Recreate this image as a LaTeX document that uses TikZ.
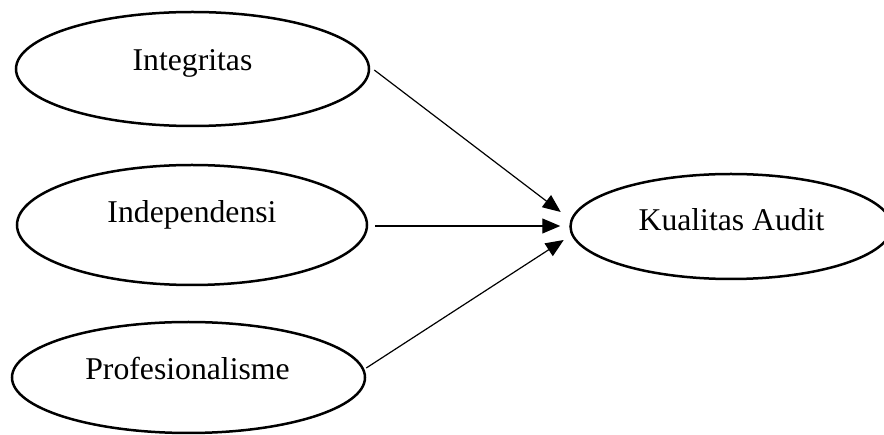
\documentclass[tikz,border=0pt]{standalone}
\usepackage{fontspec}
\setmainfont{Liberation Serif}
\usetikzlibrary{shapes.geometric,arrows.meta}
\tikzset{
  oval/.style={draw=black, line width=2.5pt, shape=ellipse, inner sep=0pt},
  lbl/.style={anchor=base, inner sep=0pt, font=\fontsize{31.7}{38}\selectfont},
  arr/.style={draw=black, line width=1.2pt, -{Triangle[length=18pt,width=15pt]}}
}
\begin{document}
\begin{tikzpicture}[x=1pt,y=-1pt]
\useasboundingbox (0,0) rectangle (884,435);
\clip (0,0) rectangle (884,435);
\node[oval, minimum width=353pt, minimum height=114pt] (int) at (192.5,69) {};
\node[oval, minimum width=350pt, minimum height=120pt] (ind) at (192,225) {};
\node[oval, minimum width=353pt, minimum height=111pt] (pro) at (188.5,377.5) {};
\node[oval, minimum width=321pt, minimum height=105pt] (ka) at (731,226.5) {};
\node[lbl] (tint) at (192.5,71) {Integritas};
\node[lbl] (tind) at (192,223) {Independensi};
\node[lbl] (tpro) at (187.5,380) {Profesionalisme};
\node[lbl] (tka) at (731.5,231) {Kualitas Audit};
\draw[arr] ([shift={(4,1)}]int.east) -- ([shift={(-8.5,-14.5)}]ka.west);
\draw[arr] ([shift={(7,1)}]ind.east) -- ([shift={(-9,-0.5)}]ka.west);
\draw[arr] ([shift={(0,-9.5)}]pro.east) -- ([shift={(-5.5,13.5)}]ka.west);
\end{tikzpicture}
\end{document}
